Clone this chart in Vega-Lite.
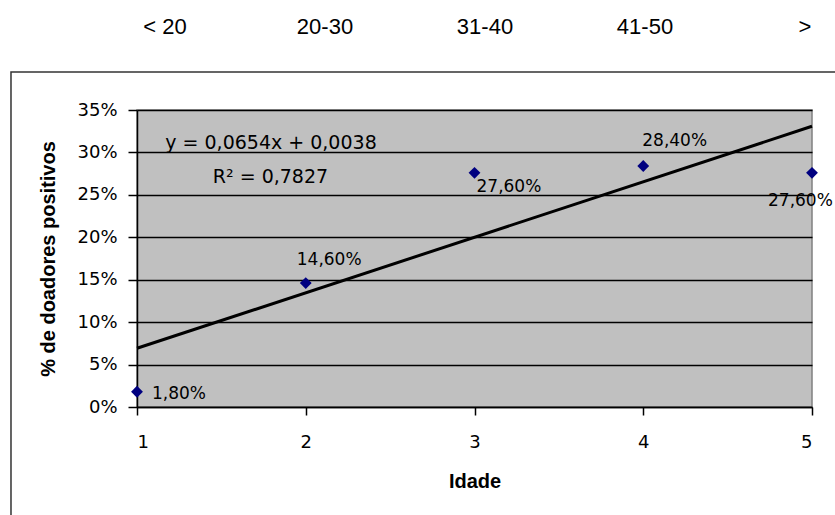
{
  "$schema": "https://vega.github.io/schema/vega-lite/v6.json",
  "width": 675,
  "height": 297,
  "autosize": {"type": "none"},
  "padding": {"left": 137, "top": 110, "right": 23, "bottom": 108},
  "background": "white",
  "config": {
    "view": {"fill": "#C0C0C0", "stroke": "#808080", "strokeWidth": 1.5},
    "text": {"color": "#000"},
    "axis": {
      "domainColor": "#000",
      "domainWidth": 1.5,
      "tickColor": "#000",
      "tickWidth": 1.5,
      "labelFont": "DejaVu Sans",
      "labelFontSize": 18,
      "labelColor": "#000",
      "titleFont": "Liberation Sans",
      "titleFontSize": 20,
      "titleFontWeight": "bold",
      "titleColor": "#000"
    },
    "axisX": {"grid": false, "tickSize": 8, "labelPadding": 18, "titlePadding": 20},
    "axisY": {"grid": true, "gridColor": "#000", "gridWidth": 1.5, "gridOpacity": 1, "tickSize": 9, "labelPadding": 11, "titlePadding": 18}
  },
  "datasets": {
    "pontos": [
      {"idade": 1, "pct": 0.018, "rotulo": "1,80%"},
      {"idade": 2, "pct": 0.146, "rotulo": "14,60%"},
      {"idade": 3, "pct": 0.276, "rotulo": "27,60%"},
      {"idade": 4, "pct": 0.284, "rotulo": "28,40%"},
      {"idade": 5, "pct": 0.276, "rotulo": "27,60%"}
    ],
    "faixas": [
      {"idade": 1, "faixa": "< 20"},
      {"idade": 2, "faixa": "20-30"},
      {"idade": 3, "faixa": "31-40"},
      {"idade": 4, "faixa": "41-50"},
      {"idade": 5, "faixa": ">"}
    ],
    "anotacoes": [
      {"nome": "eq", "texto": "y = 0,0654x + 0,0038"},
      {"nome": "r2", "texto": "R² = 0,7827"}
    ]
  },
  "resolve": {"scale": {"x": "independent"}},
  "layer": [
    {
      "layer": [
        {
          "data": {"values": [{"k": 1}]},
          "mark": {"type": "rect", "fill": null, "filled": false, "stroke": "#333333", "strokeWidth": 1.5},
          "encoding": {
            "x": {"datum": 0.2533, "type": "quantitative", "title": "Idade", "scale": {"domain": [1, 5], "nice": false, "zero": false}},
            "x2": {"datum": 8},
            "y": {"datum": 0.3948, "type": "quantitative", "title": "% de doadores positivos", "scale": {"domain": [0, 0.35], "nice": false, "zero": false}},
            "y2": {"datum": -0.6}
          }
        },
        {
          "data": {"name": "pontos"},
          "mark": {"type": "point", "shape": "diamond", "filled": true, "color": "#000080", "opacity": 1, "size": 140},
          "encoding": {
            "x": {
              "field": "idade",
              "type": "quantitative",
              "title": "Idade",
              "scale": {"domain": [1, 5], "nice": false, "zero": false},
              "axis": {"values": [1, 2, 3, 4, 5], "format": "d"}
            },
            "y": {
              "field": "pct",
              "type": "quantitative",
              "title": "% de doadores positivos",
              "scale": {"domain": [0, 0.35], "nice": false, "zero": false},
              "axis": {"values": [0, 0.05, 0.1, 0.15, 0.2, 0.25, 0.3, 0.35], "format": ".0%"}
            }
          }
        },
        {
          "data": {"name": "pontos"},
          "transform": [{"regression": "pct", "on": "idade"}],
          "mark": {"type": "line", "color": "#000", "strokeWidth": 3},
          "encoding": {
            "x": {"field": "idade", "type": "quantitative", "title": "Idade", "scale": {"domain": [1, 5], "nice": false, "zero": false}},
            "y": {"field": "pct", "type": "quantitative", "title": "% de doadores positivos", "scale": {"domain": [0, 0.35], "nice": false, "zero": false}}
          }
        },
        {
          "data": {"name": "pontos"},
          "transform": [{"filter": "datum.idade == 1"}],
          "mark": {"type": "text", "font": "DejaVu Sans", "fontSize": 17, "align": "left", "baseline": "middle", "dx": 15, "dy": 2},
          "encoding": {
            "x": {"field": "idade", "type": "quantitative", "title": "Idade"},
            "y": {"field": "pct", "type": "quantitative", "title": "% de doadores positivos"},
            "text": {"field": "rotulo"}
          }
        },
        {
          "data": {"name": "pontos"},
          "transform": [{"filter": "datum.idade == 2"}],
          "mark": {"type": "text", "font": "DejaVu Sans", "fontSize": 17, "align": "left", "baseline": "middle", "dx": -9, "dy": -23},
          "encoding": {
            "x": {"field": "idade", "type": "quantitative", "title": "Idade"},
            "y": {"field": "pct", "type": "quantitative", "title": "% de doadores positivos"},
            "text": {"field": "rotulo"}
          }
        },
        {
          "data": {"name": "pontos"},
          "transform": [{"filter": "datum.idade == 3"}],
          "mark": {"type": "text", "font": "DejaVu Sans", "fontSize": 17, "align": "left", "baseline": "middle", "dx": 2, "dy": 14},
          "encoding": {
            "x": {"field": "idade", "type": "quantitative", "title": "Idade"},
            "y": {"field": "pct", "type": "quantitative", "title": "% de doadores positivos"},
            "text": {"field": "rotulo"}
          }
        },
        {
          "data": {"name": "pontos"},
          "transform": [{"filter": "datum.idade == 4"}],
          "mark": {"type": "text", "font": "DejaVu Sans", "fontSize": 17, "align": "left", "baseline": "middle", "dx": -1, "dy": -25},
          "encoding": {
            "x": {"field": "idade", "type": "quantitative", "title": "Idade"},
            "y": {"field": "pct", "type": "quantitative", "title": "% de doadores positivos"},
            "text": {"field": "rotulo"}
          }
        },
        {
          "data": {"name": "pontos"},
          "transform": [{"filter": "datum.idade == 5"}],
          "mark": {"type": "text", "font": "DejaVu Sans", "fontSize": 17, "align": "left", "baseline": "middle", "dx": -44, "dy": 28},
          "encoding": {
            "x": {"field": "idade", "type": "quantitative", "title": "Idade"},
            "y": {"field": "pct", "type": "quantitative", "title": "% de doadores positivos"},
            "text": {"field": "rotulo"}
          }
        },
        {
          "data": {"name": "anotacoes"},
          "transform": [{"filter": "datum.nome == 'eq'"}],
          "mark": {"type": "text", "font": "DejaVu Sans", "fontSize": 19, "align": "center", "baseline": "middle"},
          "encoding": {
            "x": {"datum": 1.794, "type": "quantitative", "title": "Idade"},
            "y": {"datum": 0.3111, "type": "quantitative", "title": "% de doadores positivos"},
            "text": {"field": "texto"}
          }
        },
        {
          "data": {"name": "anotacoes"},
          "transform": [{"filter": "datum.nome == 'r2'"}],
          "mark": {"type": "text", "font": "DejaVu Sans", "fontSize": 19, "align": "center", "baseline": "middle"},
          "encoding": {
            "x": {"datum": 1.791, "type": "quantitative", "title": "Idade"},
            "y": {"datum": 0.2714, "type": "quantitative", "title": "% de doadores positivos"},
            "text": {"field": "texto"}
          }
        }
      ]
    },
    {
      "data": {"name": "faixas"},
      "mark": {"type": "text", "font": "Liberation Sans", "fontSize": 22, "align": "center", "baseline": "middle"},
      "encoding": {
        "x": {"field": "idade", "type": "quantitative", "scale": {"domain": [0.825, 5.04375], "nice": false, "zero": false}, "axis": null},
        "y": {"datum": 0.4478, "type": "quantitative", "title": "% de doadores positivos"},
        "text": {"field": "faixa"}
      }
    }
  ]
}
